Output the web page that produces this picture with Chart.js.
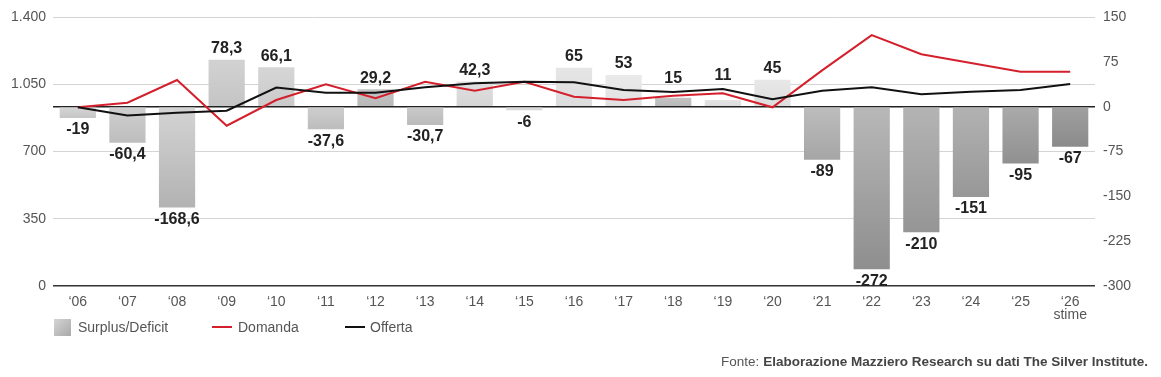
<!DOCTYPE html>
<html>
<head>
<meta charset="utf-8">
<script src="https://cdn.jsdelivr.net/npm/chart.js@4.4.1/dist/chart.umd.min.js"></script>
<style>
  html, body { margin: 0; padding: 0; background: #fff; }
  #wrap { position: relative; width: 1161px; height: 377px; font-family: "Liberation Sans", Arial, sans-serif; }
  #grafico { position: absolute; left: 0; top: 0; }
  .leg { position: absolute; top: 318px; font-size: 14px; color: #555; line-height: 18px; }
  .sw { position: absolute; top: 319px; }
  #fonte { position: absolute; right: 13px; top: 354px; font-size: 13.5px; color: #555; white-space: nowrap; }
  #fonte span { font-family: "Liberation Sans Narrow", "Liberation Sans", Arial, sans-serif; }
  #fonte b { color: #444; }
</style>
</head>
<body>
<div id="wrap">
  <canvas id="grafico" width="1161" height="377"></canvas>
  <div class="sw" style="left:54px;width:17px;height:17px;background:linear-gradient(135deg,#d4d4d4,#a9a9a9);"></div>
  <div class="leg" style="left:78px;">Surplus/Deficit</div>
  <div class="sw" style="left:212px;top:326px;width:20px;height:2px;background:#d4202c;"></div>
  <div class="leg" style="left:238px;">Domanda</div>
  <div class="sw" style="left:345px;top:326px;width:20px;height:2px;background:#111;"></div>
  <div class="leg" style="left:370px;">Offerta</div>
  <div id="fonte"><span>Fonte:</span> <b>Elaborazione Mazziero Research su dati The Silver Institute.</b></div>
</div>
<script>
// Argento: domanda, offerta e surplus/deficit (milioni di once)
const anni = ["‘06", "‘07", "‘08", "‘09", "‘10", "‘11", "‘12", "‘13", "‘14", "‘15", "‘16",
  "‘17", "‘18", "‘19", "‘20", "‘21", "‘22", "‘23", "‘24", "‘25", ["‘26", "stime"]];
const surplus = [-19, -60.4, -168.6, 78.3, 66.1, -37.6, 29.2, -30.7, 42.3, -6, 65,
  53, 15, 11, 45, -89, -272, -210, -151, -95, -67];
const domanda = [930, 954, 1072, 834, 968, 1050, 977, 1063, 1016, 1063, 985,
  968, 990, 1003, 930, 1122, 1306, 1206, 1161, 1115, 1115];
const offerta = [930, 888, 902, 912, 1033, 1006, 1006, 1034, 1055, 1063, 1060,
  1020, 1010, 1025, 972, 1016, 1034, 998, 1011, 1020, 1051];
const tickSinistra = [0, 350, 700, 1050, 1400];
const tickDestra = [-300, -225, -150, -75, 0, 75, 150];

// sfumature delle barre (chiaro -> scuro)
const barraChiaro = ["#d6d6d6", "#cfcfcf", "#d4d4d4", "#d2d2d2", "#d6d6d6", "#cecece", "#c4c4c4",
  "#cacaca", "#e0e0e0", "#dedede", "#e6e6e6", "#eaeaea", "#c4c4c4", "#e4e4e4", "#e8e8e8",
  "#bdbdbd", "#b8b8b8", "#b4b4b4", "#b2b2b2", "#aaaaaa", "#a0a0a0"];
const barraScuro = ["#c4c4c4", "#bdbdbd", "#b2b2b2", "#c4c4c4", "#cacaca", "#bcbcbc", "#b8b8b8",
  "#bababa", "#d4d4d4", "#d6d6d6", "#dcdcdc", "#e0e0e0", "#b6b6b6", "#dadada", "#dcdcdc",
  "#a5a5a5", "#8e8e8e", "#959595", "#979797", "#909090", "#8a8a8a"];

const fmt = v => String(v).replace(".", ",");

// etichette sopra/sotto le barre, spostate sopra le linee se serve
const etichetteBarre = {
  id: "etichetteBarre",
  afterDatasetsDraw(chart) {
    const ctx = chart.ctx;
    const barre = chart.getDatasetMeta(2).data;
    const rossa = chart.getDatasetMeta(0).data;
    const nera = chart.getDatasetMeta(1).data;
    ctx.save();
    ctx.font = "bold 16px 'Liberation Sans', Arial, sans-serif";
    ctx.fillStyle = "#222";
    ctx.textAlign = "center";
    barre.forEach((bar, i) => {
      const v = surplus[i];
      if (v >= 0) {
        const y = Math.min(bar.y - 3, rossa[i].y - 5, nera[i].y - 5);
        ctx.textBaseline = "bottom";
        ctx.fillText(fmt(v), bar.x, y);
      } else {
        ctx.textBaseline = "top";
        ctx.fillText(fmt(v), bar.x, bar.y + 4);
      }
    });
    ctx.restore();
  }
};

const ctx = document.getElementById("grafico").getContext("2d");
new Chart(ctx, {
  data: {
    labels: anni,
    datasets: [
      {
        type: "line",
        label: "Domanda",
        data: domanda,
        yAxisID: "y",
        borderColor: "#d4202c",
        borderWidth: 2,
        pointRadius: 0,
        tension: 0,
        order: 1
      },
      {
        type: "line",
        label: "Offerta",
        data: offerta,
        yAxisID: "y",
        borderColor: "#111",
        borderWidth: 2,
        pointRadius: 0,
        tension: 0,
        order: 0
      },
      {
        type: "bar",
        label: "Surplus/Deficit",
        data: surplus,
        yAxisID: "y2",
        backgroundColor: function(context) {
          const chart = context.chart;
          if (!chart.chartArea || !chart.scales.y2) return barraChiaro[context.dataIndex];
          const i = context.dataIndex;
          const p0 = chart.scales.y2.getPixelForValue(0);
          const p1 = chart.scales.y2.getPixelForValue(surplus[i]);
          const g = chart.ctx.createLinearGradient(0, Math.min(p0, p1), 0, Math.max(p0, p1) + 1);
          g.addColorStop(0, barraChiaro[i]);
          g.addColorStop(1, barraScuro[i]);
          return g;
        },
        barPercentage: 0.73,
        categoryPercentage: 1,
        order: 2
      }
    ]
  },
  options: {
    responsive: false,
    animation: false,
    layout: { padding: { top: 17, left: 0, right: 0, bottom: 0 } },
    scales: {
      x: {
        grid: { display: false },
        border: { display: false },
        ticks: {
          color: "#555",
          padding: 1,
          maxRotation: 0,
          autoSkip: false,
          font: { family: "'Liberation Sans', Arial, sans-serif", size: 14, lineHeight: 0.95 }
        },
        afterFit: function(scale) { scale.height = 91; }
      },
      y: {
        position: "left",
        min: 0,
        max: 1400,
        afterBuildTicks: function(scale) {
          scale.ticks = tickSinistra.map(v => ({ value: v }));
        },
        grid: {
          drawTicks: false,
          color: c => c.tick.value === 0 ? "#333" : "#d4d4d4",
          lineWidth: c => c.tick.value === 0 ? 1.5 : 1
        },
        border: { display: false },
        ticks: {
          color: "#555",
          padding: 7,
          font: { family: "'Liberation Sans', Arial, sans-serif", size: 14 },
          callback: v => v.toLocaleString("it-IT")
        },
        afterFit: function(scale) { scale.width = 53; }
      },
      y2: {
        position: "right",
        min: -300,
        max: 150,
        afterBuildTicks: function(scale) {
          scale.ticks = tickDestra.map(v => ({ value: v }));
        },
        grid: {
          drawTicks: false,
          color: c => c.tick.value === 0 ? "#222" : "rgba(0,0,0,0)",
          lineWidth: c => c.tick.value === 0 ? 1.5 : 0
        },
        border: { display: false },
        ticks: {
          color: "#555",
          padding: 8,
          font: { family: "'Liberation Sans', Arial, sans-serif", size: 14 },
          callback: v => String(v)
        },
        afterFit: function(scale) { scale.width = 66; }
      }
    },
    plugins: {
      legend: { display: false },
      tooltip: { enabled: false }
    }
  },
  plugins: [etichetteBarre]
});
</script>
</body>
</html>
